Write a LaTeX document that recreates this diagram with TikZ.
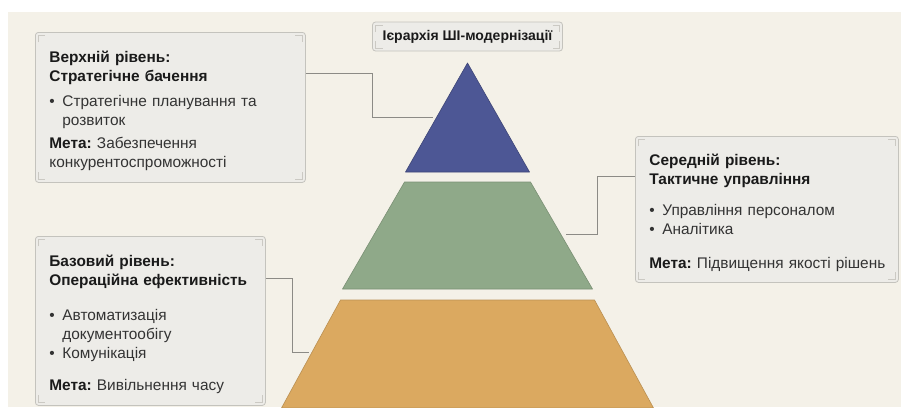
\documentclass[tikz,border=0pt]{standalone}
\usepackage{fontspec}
\setmainfont{Liberation Sans}
\frenchspacing
\usetikzlibrary{positioning}
\definecolor{paper}{HTML}{F4F1E8}
\definecolor{panelbg}{HTML}{EDECE8}
\definecolor{panelln}{HTML}{C4C3BD}
\definecolor{tick}{HTML}{CBC9C3}
\definecolor{wire}{HTML}{8C8B86}
\definecolor{tiertop}{HTML}{4D5795}
\definecolor{tiermid}{HTML}{8FA989}
\definecolor{tierbase}{HTML}{DBA960}
\definecolor{txt}{HTML}{1A1A1A}
\definecolor{txt2}{HTML}{333333}
\newcommand{\bul}{\makebox[13pt][l]{•}}
\newcommand{\ind}{\hspace*{13pt}}

\begin{document}
\begin{tikzpicture}[
  x=1pt, y=-1pt,
  panel/.style={draw=panelln, fill=panelbg, rounded corners=3pt, line width=0.8pt,
    inner xsep=14pt, align=left, font=\fontsize{15.4}{19}\selectfont, text=txt2,
    path picture={
      \draw[tick, line width=0.7pt, sharp corners]
        ([shift={(3pt,-10pt)}]path picture bounding box.north west) -- ++(0pt,7pt) -- ++(7pt,0pt)
        ([shift={(-10pt,-3pt)}]path picture bounding box.north east) -- ++(7pt,0pt) -- ++(0pt,-7pt)
        ([shift={(3pt,10pt)}]path picture bounding box.south west) -- ++(0pt,-7pt) -- ++(7pt,0pt)
        ([shift={(-3pt,10pt)}]path picture bounding box.south east) -- ++(0pt,-7pt) -- ++(-7pt,0pt);
    }},
  note/.style={panel, execute at begin node={\rule{0pt}{18pt}}},
  heading/.style={panel, inner xsep=6pt, align=center, text=txt, font=\bfseries\fontsize{14}{19}\selectfont},
  tier/.style={line width=0.6pt, line join=round},
  link/.style={draw=wire, line width=0.8pt},
]

\useasboundingbox (0,0) rectangle (901,407);
\fill[white] (0,0) rectangle (901,407);
\fill[paper] (8,12) rectangle (901,407);

% pyramid
\filldraw[tier, fill=tiertop, draw=tiertop!80!black] (467.5,63) -- (405.5,172) -- (529.5,172) -- cycle;
\filldraw[tier, fill=tiermid, draw=tiermid!85!black] (404.5,182) -- (530.5,182) -- (592.5,289) -- (342.5,289) -- cycle;
\filldraw[tier, fill=tierbase, draw=tierbase!85!black] (340.5,300) -- (594.5,300) -- (653.5,408) -- (281.5,408) -- cycle;

\coordinate (topedge) at (433,117);
\coordinate (midedge) at (566,234);
\coordinate (baseedge) at (309,352);

\node[heading, minimum width=190pt, minimum height=29pt] (title) at (467.5,36.5) {Ієрархія ШІ-модернізації};

\node[note, anchor=north west, minimum width=270pt, minimum height=150pt, text width=242pt] (upper) at (35,32)
  {\textbf{\color{txt}Верхній рівень:}\\ \textbf{\color{txt}Стратегічне бачення}\\[6pt]
   \bul Стратегічне планування та\\ \ind розвиток\\[4pt]
   \textbf{\color{txt}Мета:} Забезпечення\\ конкурентоспроможності};

\node[note, anchor=north west, minimum width=263pt, minimum height=146pt, text width=235pt] (middle) at (635,136)
  {\textbf{\color{txt}Середній рівень:}\\ \textbf{\color{txt}Тактичне управління}\\[12pt]
   \bul Управління персоналом\\ \bul Аналітика\\[15pt]
   \mbox{\textbf{\color{txt}Мета:} Підвищення якості рішень}};

\node[note, anchor=north west, minimum width=230pt, minimum height=169pt, text width=202pt] (base) at (35,236)
  {\textbf{\color{txt}Базовий рівень:}\\ \textbf{\color{txt}Операційна ефективність}\\[16pt]
   \bul Автоматизація\\ \ind документообігу\\ \bul Комунікація\\[13pt]
   \textbf{\color{txt}Мета:} Вивільнення часу};

\draw[link] ([yshift=-41pt]upper.north east) -- ++(67pt,0pt) |- (topedge);
\draw[link] ([yshift=-40pt]middle.north west) -- ++(-38pt,0pt) |- (midedge);
\draw[link] ([yshift=-42pt]base.north east) -- ++(27pt,0pt) |- (baseedge);

\end{tikzpicture}
\end{document}
